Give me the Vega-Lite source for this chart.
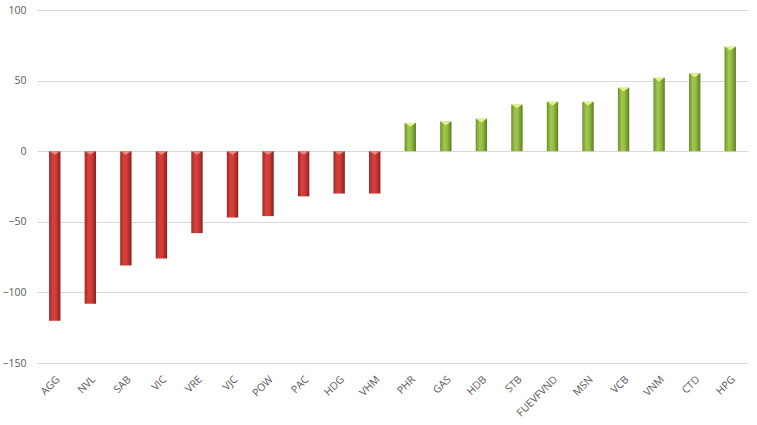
{
  "$schema": "https://vega.github.io/schema/vega-lite/v6.json",
  "width": 711,
  "height": 353,
  "autosize": {"type": "none"},
  "padding": {"left": 37, "top": 10, "right": 9, "bottom": 62},
  "background": "white",
  "config": {
    "view": {"stroke": null},
    "axis": {"labelFont": "Open Sans", "labelFontSize": 10.5, "labelColor": "#595959", "domain": false, "ticks": false, "gridColor": "#d9d9d9", "gridWidth": 1}
  },
  "data": {
    "values": [
      {"code": "AGG", "value": -120},
      {"code": "NVL", "value": -108},
      {"code": "SAB", "value": -81},
      {"code": "VIC", "value": -76},
      {"code": "VRE", "value": -58},
      {"code": "VJC", "value": -47},
      {"code": "POW", "value": -46},
      {"code": "PAC", "value": -32},
      {"code": "HDG", "value": -30},
      {"code": "VHM", "value": -30},
      {"code": "PHR", "value": 20},
      {"code": "GAS", "value": 21},
      {"code": "HDB", "value": 23},
      {"code": "STB", "value": 33},
      {"code": "FUEVFVND", "value": 35},
      {"code": "MSN", "value": 35},
      {"code": "VCB", "value": 45},
      {"code": "VNM", "value": 52},
      {"code": "CTD", "value": 55},
      {"code": "HPG", "value": 74}
    ]
  },
  "encoding": {
    "x": {
      "field": "code", "type": "nominal", "sort": null, "title": null,
      "scale": {"paddingInner": 0.68, "paddingOuter": 0.34},
      "axis": {"labelAngle": -45, "labelPadding": 11, "grid": false}
    }
  },
  "layer": [
    {
      "transform": [{"filter": "datum.value < 0"}],
      "mark": {"type": "bar", "color": {"gradient": "linear", "x1": 0, "x2": 1, "y1": 0, "y2": 0, "stops": [{"offset": 0, "color": "#9e2a27"}, {"offset": 0.35, "color": "#d8413c"}, {"offset": 0.6, "color": "#cf3b37"}, {"offset": 1, "color": "#8a2320"}]}},
      "encoding": {
        "y": {"field": "value", "type": "quantitative", "title": null, "scale": {"domain": [-150, 100], "nice": false}, "axis": {"values": [-150, -100, -50, 0, 50, 100], "labelPadding": 11}}
      }
    },
    {
      "transform": [{"filter": "datum.value > 0"}],
      "mark": {"type": "bar", "color": {"gradient": "linear", "x1": 0, "x2": 1, "y1": 0, "y2": 0, "stops": [{"offset": 0, "color": "#6f8f2c"}, {"offset": 0.35, "color": "#a0c84c"}, {"offset": 0.6, "color": "#94bd44"}, {"offset": 1, "color": "#5f7d24"}]}},
      "encoding": {
        "y": {"field": "value", "type": "quantitative"}
      }
    },
    {
      "transform": [{"filter": "datum.value < 0"}],
      "mark": {"type": "point", "filled": true, "shape": "M-1,0L1,0L0,0.7Z", "size": 110, "color": "#f08a86", "opacity": 1},
      "encoding": {
        "y": {"datum": 0, "type": "quantitative"}
      }
    },
    {
      "transform": [{"filter": "datum.value > 0"}],
      "mark": {"type": "point", "filled": true, "shape": "M-1,0L1,0L0,0.7Z", "size": 110, "color": "#e3f28a", "opacity": 1},
      "encoding": {
        "y": {"field": "value", "type": "quantitative"}
      }
    }
  ]
}
